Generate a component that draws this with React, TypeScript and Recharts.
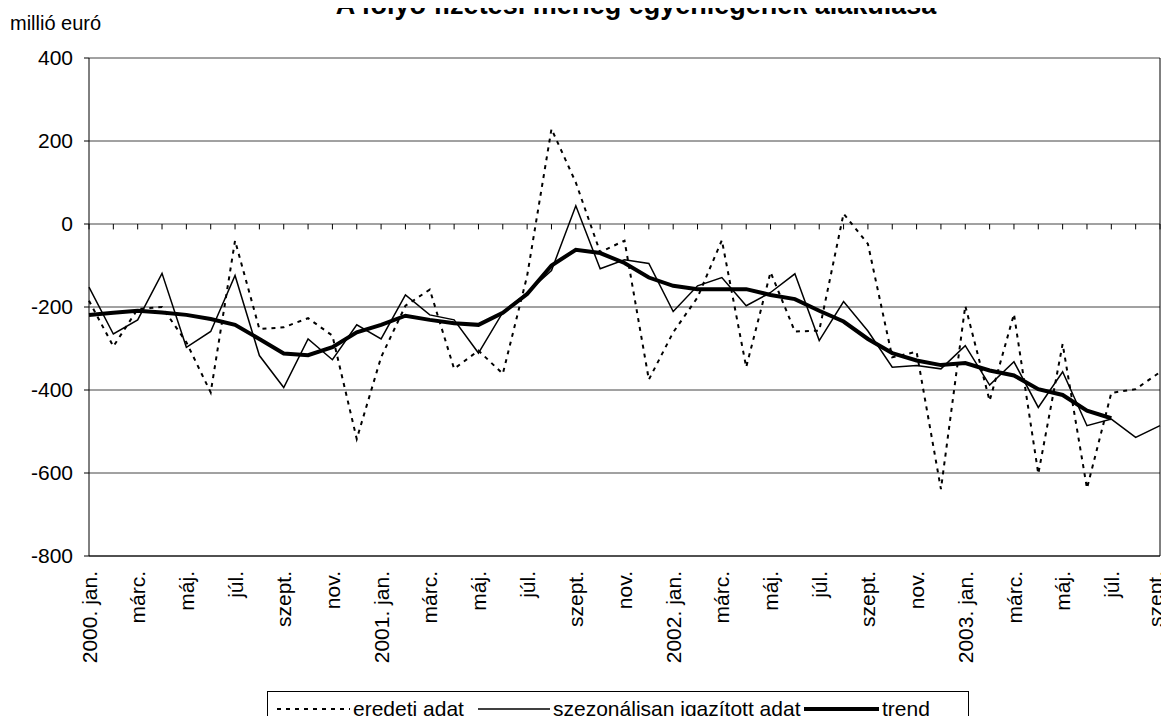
import React from 'react';
import { LineChart, Line, XAxis, YAxis, CartesianGrid, ReferenceLine } from 'recharts';

// Categories (months, Jan 2000 - Sept 2003)
const categories = [
  '2000. jan.', 'febr.', 'márc.', 'ápr.', 'máj.', 'jún.', 'júl.', 'aug.', 'szept.', 'okt.', 'nov.', 'dec.',
  '2001. jan.', 'febr.', 'márc.', 'ápr.', 'máj.', 'jún.', 'júl.', 'aug.', 'szept.', 'okt.', 'nov.', 'dec.',
  '2002. jan.', 'febr.', 'márc.', 'ápr.', 'máj.', 'jún.', 'júl.', 'aug.', 'szept.', 'okt.', 'nov.', 'dec.',
  '2003. jan.', 'febr.', 'márc.', 'ápr.', 'máj.', 'jún.', 'júl.', 'aug.', 'szept.'
];

// millió euró
const eredeti = [
  -185, -295, -205, -200, -285, -406, -40, -253, -249, -227, -269, -518,
  -321, -197, -158, -349, -305, -361, -125, 229, 100, -68, -40, -375,
  -261, -177, -39, -345, -116, -259, -257, 25, -48, -321, -308, -639,
  -197, -426, -217, -602, -289, -637, -407, -398, -357
];

const szezonalis = [
  -152, -265, -231, -119, -297, -259, -124, -317, -394, -277, -327, -243,
  -277, -171, -219, -231, -311, -213, -165, -112, 44, -108, -86, -95,
  -211, -149, -129, -197, -165, -120, -281, -187, -258, -345, -341, -349,
  -293, -388, -332, -442, -356, -486, -470, -514, -486
];

const trend = [
  -219, -214, -209, -213, -219, -229, -243, -277, -312, -316, -297, -261,
  -243, -221, -231, -239, -243, -214, -169, -100, -62, -70, -94, -129,
  -149, -157, -157, -157, -171, -181, -209, -235, -277, -311, -329, -340,
  -335, -353, -365, -398, -412, -450, -468, null, null
];

const yTicks = [-800, -600, -400, -200, 0, 200, 400];

const data = categories.map((label, i) => ({
  idx: i,
  label,
  eredeti: eredeti[i],
  szezonalis: szezonalis[i],
  trend: trend[i]
}));

// every second month gets a label
const xTicks = data.filter((d) => d.idx % 2 === 0).map((d) => d.idx);
const lastIdx = categories.length - 1;

const FONT = 'Arial, "Liberation Sans", sans-serif';

const MonthTick = (props: any) => {
  const { x, y, payload } = props;
  // last label is pulled in a bit so it stays inside the page
  const dy = payload.value === lastIdx ? '0.12em' : '0.36em';
  return (
    <text
      x={x}
      y={y}
      transform={`rotate(-90, ${x}, ${y})`}
      textAnchor="end"
      dy={dy}
      fontSize={21}
      fontFamily={FONT}
      fill="#000"
    >
      {categories[payload.value]}
    </text>
  );
};

const legendItems = [
  { name: 'eredeti adat', left: 9, width: 73, stroke: 2, dash: '4 5' },
  { name: 'szezonálisan igazított adat', left: 210, width: 72, stroke: 1.5, dash: undefined },
  { name: 'trend', left: 536, width: 75, stroke: 4, dash: undefined }
];

const ChartLegend = () => (
  <div
    style={{
      position: 'absolute',
      left: 267,
      top: 691,
      width: 702,
      height: 40,
      border: '1px solid #000',
      boxSizing: 'border-box',
      fontFamily: FONT,
      fontSize: 21,
      color: '#000'
    }}
  >
    {legendItems.map((item) => (
      <div
        key={item.name}
        style={{
          position: 'absolute',
          left: item.left,
          top: 0,
          height: 34,
          display: 'flex',
          alignItems: 'center',
          whiteSpace: 'nowrap'
        }}
      >
        <svg width={item.width} height={10} style={{ marginRight: 3 }}>
          <line
            x1={0}
            y1={5}
            x2={item.width}
            y2={5}
            stroke="#000"
            strokeWidth={item.stroke}
            strokeDasharray={item.dash}
          />
        </svg>
        <span>{item.name}</span>
      </div>
    ))}
  </div>
);

const App: React.FC = () => {
  return (
    <div style={{ position: 'relative', margin: -8, width: 1169, height: 724, overflow: 'hidden', background: '#fff' }}>
      <LineChart
        width={1169}
        height={724}
        data={data}
        margin={{ top: 58, right: 9, left: 0, bottom: 0 }}
      >
        <CartesianGrid vertical={false} stroke="#444" strokeWidth={1} />
        <XAxis
          dataKey="idx"
          type="number"
          domain={[0, lastIdx]}
          ticks={xTicks}
          interval={0}
          height={168}
          tickLine={false}
          tickSize={0}
          tickMargin={15}
          axisLine={{ stroke: '#000' }}
          tick={<MonthTick />}
        />
        <YAxis
          domain={[-800, 400]}
          ticks={yTicks}
          width={89}
          tickSize={5}
          tickMargin={11}
          axisLine={{ stroke: '#000' }}
          tickLine={{ stroke: '#000' }}
          tick={{ fontSize: 21, fontFamily: FONT, fill: '#000' }}
        />
        <ReferenceLine x={lastIdx} stroke="#000" />
        {data.map((d) => (
          <ReferenceLine
            key={d.idx}
            segment={[{ x: d.idx, y: 0 }, { x: d.idx, y: -13 }]}
            stroke="#000"
          />
        ))}
        <Line
          type="linear"
          dataKey="eredeti"
          stroke="#000"
          strokeWidth={2}
          strokeDasharray="4 5"
          dot={false}
          isAnimationActive={false}
        />
        <Line
          type="linear"
          dataKey="szezonalis"
          stroke="#000"
          strokeWidth={1.5}
          dot={false}
          isAnimationActive={false}
        />
        <Line
          type="linear"
          dataKey="trend"
          stroke="#000"
          strokeWidth={4}
          dot={false}
          isAnimationActive={false}
        />
      </LineChart>
      <svg
        width={1169}
        height={724}
        style={{ position: 'absolute', left: 0, top: 0, pointerEvents: 'none' }}
      >
        <text x={636} y={14} textAnchor="middle" fontSize={27} fontWeight="bold" fontFamily={FONT} fill="#000">
          A folyó fizetési mérleg egyenlegének alakulása
        </text>
        <text x={10} y={30} fontSize={20} fontFamily={FONT} fill="#000">
          millió euró
        </text>
      </svg>
      <ChartLegend />
    </div>
  );
};

export default App;
